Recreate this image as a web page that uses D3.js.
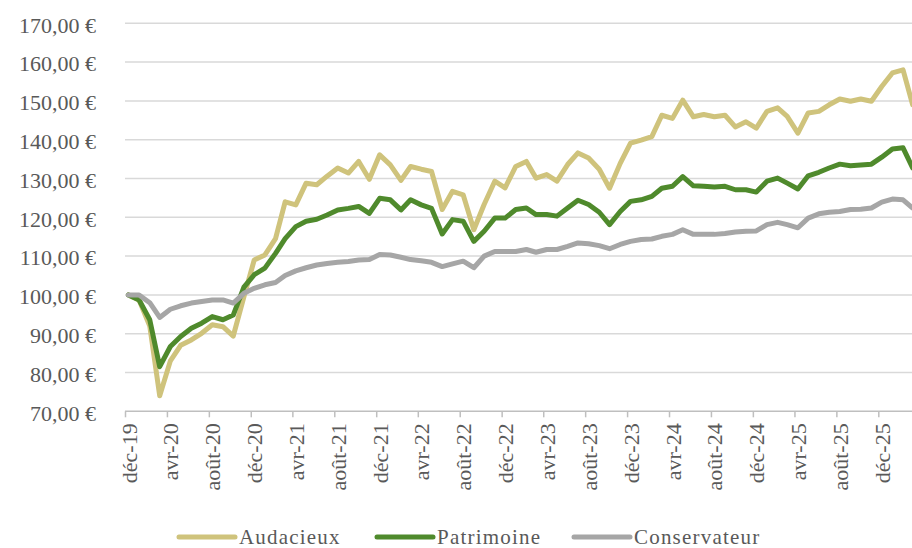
<!DOCTYPE html>
<html>
<head>
<meta charset="utf-8">
<script src="https://cdn.jsdelivr.net/npm/d3@7"></script>
<style>
  body { margin: 0; background: #fff; }
  svg { display: block; }
  svg text { font-family: "Liberation Serif", "Times New Roman", serif; }
</style>
</head>
<body>
<svg id="chart" width="912" height="548"></svg>
<script>
// valeurs liquidatives mensuelles, base 100 en déc-19 (déc-19 -> mars-26)
const audacieux = [
  100, 98.7, 92, 74, 83, 87, 88.4, 90.1, 92.3, 91.8, 89.4, 99.5,
  109, 110.3, 114.5, 124, 123.2, 128.8, 128.4, 130.6, 132.7, 131.4, 134.4, 129.8,
  136.1, 133.5, 129.5, 133.1, 132.4, 131.8, 122, 126.7, 125.8, 116.8, 123.3, 129.3,
  127.6, 133.1, 134.4, 130.1, 131, 129.3, 133.6, 136.6, 135.3, 132.4, 127.5, 133.9,
  139.1, 139.9, 140.8, 146.3, 145.5, 150.2, 145.9, 146.5, 145.9, 146.3, 143.3, 144.6,
  143, 147.3, 148.2, 146, 141.7, 146.9, 147.3, 149, 150.5, 149.9, 150.5, 149.9,
  153.7, 157.2, 158, 149
];
const patrimoine = [
  100, 98.7, 93.6, 81.5, 86.7, 89.3, 91.4, 92.7, 94.4, 93.6, 94.8, 102,
  105.2, 106.9, 110.7, 114.5, 117.6, 119, 119.5, 120.6, 121.9, 122.3, 122.8, 121,
  124.9, 124.5, 121.9, 124.5, 123.2, 122.3, 115.7, 119.4, 119, 113.8, 116.4, 119.8,
  119.8, 122, 122.4, 120.7, 120.7, 120.3, 122.4, 124.4, 123.3, 121.3, 118.1, 121.5,
  124.1, 124.5, 125.4, 127.5, 128, 130.5, 128.1, 128, 127.8, 128, 127.1, 127.1,
  126.5, 129.3, 130.1, 128.8, 127.3, 130.7, 131.6, 132.7, 133.7, 133.3, 133.5, 133.7,
  135.5, 137.6, 137.9, 132.7
];
const conservateur = [
  100, 100, 98, 94.2, 96.3, 97.2, 97.9, 98.3, 98.7, 98.7, 97.9, 100.4,
  101.7, 102.6, 103.2, 105, 106.2, 107, 107.7, 108.1, 108.4, 108.6, 109, 109.1,
  110.4, 110.3, 109.7, 109.1, 108.8, 108.4, 107.3, 108, 108.7, 107, 110, 111.2,
  111.2, 111.2, 111.7, 111, 111.7, 111.7, 112.5, 113.4, 113.2, 112.7, 111.9, 113,
  113.8, 114.3, 114.4, 115.1, 115.6, 116.8, 115.6, 115.6, 115.6, 115.8, 116.2, 116.4,
  116.5, 118.1, 118.7, 118.1, 117.3, 119.8, 120.9, 121.3, 121.5, 122, 122.1, 122.4,
  123.9, 124.7, 124.5, 122.4
];
const seriesNames = ["Audacieux", "Patrimoine", "Conservateur"];
const yTicks = [70, 80, 90, 100, 110, 120, 130, 140, 150, 160, 170];
const xTickLabels = ["déc-19", "avr-20", "août-20", "déc-20", "avr-21", "août-21", "déc-21",
  "avr-22", "août-22", "déc-22", "avr-23", "août-23", "déc-23", "avr-24", "août-24",
  "déc-24", "avr-25", "août-25", "déc-25"];

const colors = {Audacieux: "#cfc37c", Patrimoine: "#4f8a2c", Conservateur: "#a6a6a6"};
const textColor = "#595959";

const svg = d3.select("#chart");
const plotLeft = 125, plotTop = 23.3, plotBottom = 411.3;

const start = new Date(2019, 11, 1);
// mois des points (valeur relevée vers le 11 du mois)
const months = d3.timeMonth.range(start, new Date(2026, 2, 2));
const dates = months.map(m => d3.timeDay.offset(m, 10));
const tickDates = d3.timeMonth.range(start, new Date(2025, 11, 2), 4);

const x = d3.scaleTime()
  .domain([start, new Date(2025, 11, 1)])
  .range([plotLeft, 878.3]);
const y = d3.scaleLinear().domain([70, 170]).range([plotBottom, plotTop]);

const fmt = v => v.toFixed(2).replace(".", ",") + " €";

// grille horizontale
svg.append("g").selectAll("line")
  .data(yTicks.filter(d => d > 70))
  .join("line")
  .attr("x1", plotLeft).attr("x2", 930)
  .attr("y1", d => y(d)).attr("y2", d => y(d))
  .attr("stroke", "#d9d9d9").attr("stroke-width", 1.5);

// axe Y
const yAxis = svg.append("g")
  .attr("transform", `translate(${plotLeft},0)`)
  .attr("font-family", null)
  .call(d3.axisLeft(y).tickValues(yTicks).tickSize(0).tickPadding(29).tickFormat(fmt));
yAxis.select(".domain").remove();
yAxis.selectAll("text")
  .attr("fill", textColor)
  .style("font-size", "22px")
  .attr("dy", "0.4em");

// axe X
const xAxis = svg.append("g")
  .attr("transform", `translate(0,${plotBottom})`)
  .call(d3.axisBottom(x).tickValues(tickDates).tickSizeInner(6).tickSizeOuter(0)
    .tickFormat((d, i) => xTickLabels[i]));
xAxis.select(".domain")
  .attr("d", `M${plotLeft},0H930`)
  .attr("stroke", "#bfbfbf").attr("stroke-width", 1.5);
xAxis.selectAll(".tick line").attr("stroke", "#bfbfbf").attr("stroke-width", 1.5);
xAxis.selectAll("text")
  .attr("fill", textColor)
  .style("font-size", "22px")
  .style("text-anchor", "end")
  .attr("transform", "rotate(-90)")
  .attr("x", -12)
  .attr("y", 0)
  .attr("dy", "0.5em");

// courbes
const series = [audacieux, patrimoine, conservateur].map((vals, k) => ({
  name: seriesNames[k],
  points: vals.map((v, i) => ({date: dates[i], value: v}))
}));

const line = d3.line().x(d => x(d.date)).y(d => y(d.value));

svg.append("g").selectAll("path")
  .data(series)
  .join("path")
  .attr("d", d => line(d.points))
  .attr("fill", "none")
  .attr("stroke", d => colors[d.name])
  .attr("stroke-width", 5)
  .attr("stroke-linejoin", "round")
  .attr("stroke-linecap", "round");

// légende
const legendX = [179, 377, 574];
const legend = svg.append("g").selectAll("g")
  .data(seriesNames)
  .join("g")
  .attr("transform", (d, i) => `translate(${legendX[i]},537)`);
legend.append("line")
  .attr("x1", 0).attr("x2", 56)
  .attr("stroke", d => colors[d])
  .attr("stroke-width", 5)
  .attr("stroke-linecap", "round");
legend.append("text")
  .attr("x", 60)
  .attr("dy", "0.32em")
  .attr("fill", textColor)
  .style("font-size", "21px")
  .style("letter-spacing", "1.2px")
  .text(d => d);
</script>
</body>
</html>
